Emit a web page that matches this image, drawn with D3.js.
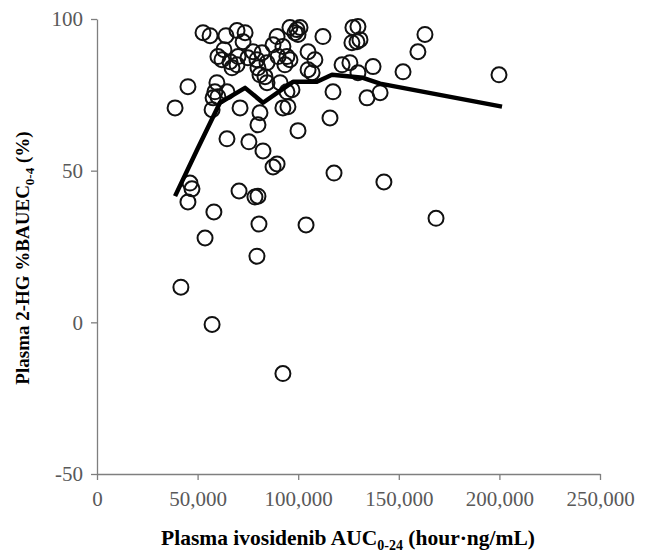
<!DOCTYPE html>
<html><head><meta charset="utf-8">
<script src="https://cdn.jsdelivr.net/npm/d3@7/dist/d3.min.js"></script>
<style>body{margin:0;background:#fff}svg{display:block}</style>
</head><body><svg id="c" width="646" height="554"></svg>
<script>
// AUC0-24 (thousand hour·ng/mL), 2-HG %BAUEC0-4
const auc = [38.8,45.2,41.7,46.2,47.2,45.2,58.1,53.7,57.2,70.6,78.5,80.0,80.5,79.5,103.9,87.5,89.5,117.8,64.6,75.5,82.5,99.9,57.7,60.1,57.2,71.1,81.0,80.0,92.4,94.9,115.8,92.4,168.5,142.6,199.8,163.0,159.5,152.1,134.2,140.7,117.3,137.2,129.7,121.8,125.7,126.7,129.2,130.7,127.2,129.7,112.3,104.9,108.3,104.9,106.9,
52.7,56.2,64.1,69.6,73.6,72.6,63.1,62.1,66.1,70.1,67.1,69.6,79.5,82.0,77.5,84.5,80.0,81.0,83.5,84.5,89.5,87.5,92.4,90.0,94.4,95.9,93.4,95.9,99.4,100.9,98.4,99.9,59.6,58.6,64.6,94.4,96.9,60.1,75.0,91.0];
const pct = [70.7,77.7,11.6,45.9,44.0,39.7,36.4,27.8,-0.7,43.3,41.3,41.6,32.4,21.8,32.1,51.2,52.2,49.2,60.5,59.5,56.5,63.2,74.0,74.4,70.1,70.7,69.1,65.1,70.7,71.1,67.4,-16.9,34.3,46.3,81.6,94.9,89.2,82.6,74.0,75.7,76.0,84.3,82.3,84.9,85.6,92.2,92.5,93.2,97.2,97.5,94.2,89.2,86.6,83.3,82.3,
95.5,94.5,94.5,96.2,95.5,92.5,89.9,86.6,85.9,87.6,83.9,84.9,86.6,88.9,89.2,85.6,83.9,81.6,81.0,79.0,94.2,91.5,90.9,87.6,87.6,86.6,84.9,97.2,96.5,97.2,95.5,94.9,79.0,76.0,76.0,76.0,76.7,87.6,87.2,79.0];
// smoothed trend line
const trendX = [38.8,49.7,61.1,73.6,82.5,97.4,109.3,116.8,132.2,140.7,201.3];
const trendY = [41.6,56.8,72.4,77.3,72.4,79.3,79.3,81.6,80.6,78.7,71.1];
const xTicks = [0,50000,100000,150000,200000,250000];
const yTicks = [-50,0,50,100];

const svg = d3.select("#c");
const x = d3.scaleLinear().domain([0,250000]).range([97,600]);
const y = d3.scaleLinear().domain([-50,100]).range([474,19]);
const serif = "'Liberation Serif','Times New Roman',serif";

const gx = svg.append("g").attr("transform","translate(0,474)")
  .call(d3.axisBottom(x).tickValues(xTicks).tickSize(6).tickSizeOuter(0).tickFormat(d=>d3.format(",")(d)));
const gy = svg.append("g").attr("transform","translate(97,0)")
  .call(d3.axisLeft(y).tickValues(yTicks).tickSize(6).tickSizeOuter(0).tickFormat(d=>String(d)));
[gx,gy].forEach(g=>{
  g.select(".domain").attr("stroke","#7f7f7f").attr("stroke-width",1.3);
  g.selectAll(".tick line").attr("stroke","#7f7f7f").attr("stroke-width",1.3);
  g.selectAll(".tick text").attr("fill","#595959").style("font-family",serif).style("font-size","21px");
});
gx.selectAll(".tick text").attr("dy","1.1em");
gy.selectAll(".tick text").attr("x",-14).attr("dy","0.33em");

const pts = auc.map((a,i)=>[a*1000,pct[i]]);
svg.append("g").selectAll("circle").data(pts).join("circle")
  .attr("cx",d=>x(d[0])).attr("cy",d=>y(d[1])).attr("r",7.5)
  .attr("fill","none").attr("stroke","#111").attr("stroke-width",2);

const tr = trendX.map((a,i)=>[a*1000,trendY[i]]);
svg.append("path").datum(tr)
  .attr("d",d3.line().x(d=>x(d[0])).y(d=>y(d[1])))
  .attr("fill","none").attr("stroke","#000").attr("stroke-width",4.5).attr("stroke-linejoin","round");

const xt = svg.append("text").attr("x",348).attr("y",545).attr("text-anchor","middle")
  .style("font-family",serif).style("font-size","21.5px").style("font-weight","bold").attr("fill","#000");
xt.append("tspan").text("Plasma ivosidenib AUC");
xt.append("tspan").text("0-24").style("font-size","14px").attr("dy",5);
xt.append("tspan").text(" (hour·ng/mL)").attr("dy",-5);

const yt = svg.append("text").attr("transform","translate(29,258) rotate(-90)").attr("text-anchor","middle")
  .style("font-family",serif).style("font-size","19px").style("font-weight","bold").attr("fill","#000");
yt.append("tspan").text("Plasma 2-HG %BAUEC");
yt.append("tspan").text("0-4").style("font-size","13px").attr("dy",5);
yt.append("tspan").text(" (%)").attr("dy",-5);
</script></body></html>
